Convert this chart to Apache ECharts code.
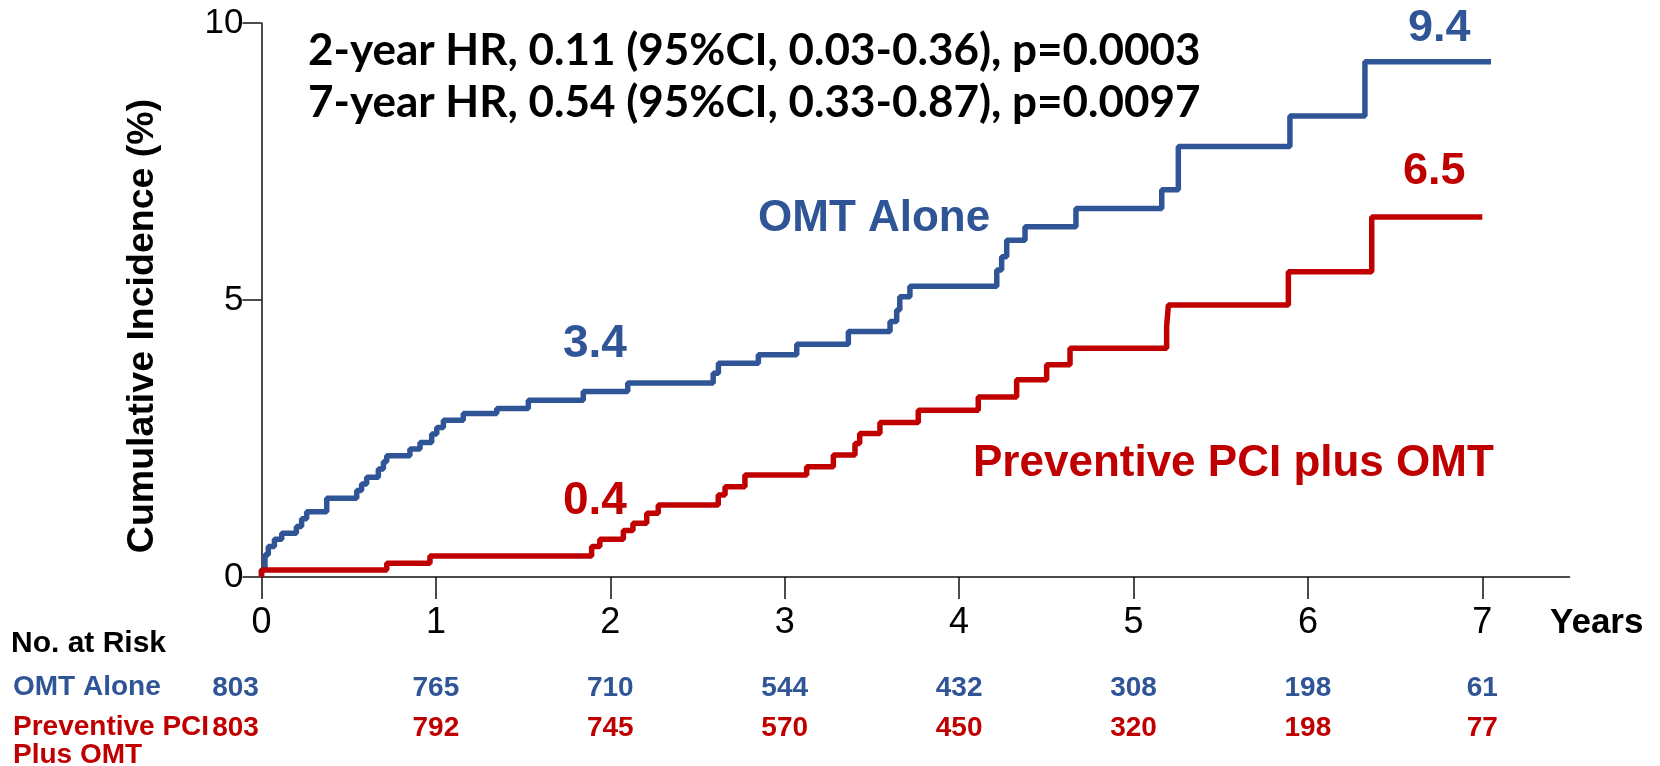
<!DOCTYPE html>
<html><head><meta charset="utf-8">
<script src="https://cdn.jsdelivr.net/npm/echarts@6/dist/echarts.min.js"></script>
<style>html,body{margin:0;padding:0;background:#fff}#c{width:1660px;height:766px}</style>
</head><body><div id="c"></div>
<script>
// ---- data ----
const yearTicks = [0, 1, 2, 3, 4, 5, 6, 7];
const yTicks = [0, 5, 10];
const omtTimes  = [0, 0, 0.02, 0.039, 0.074, 0.116, 0.20, 0.23, 0.259, 0.374, 0.546, 0.574, 0.603, 0.67, 0.699, 0.718, 0.851, 0.909, 0.976, 1.005, 1.043, 1.157, 1.349, 1.53, 1.845, 2.1, 2.59, 2.62, 2.849, 3.069, 3.365, 3.604, 3.642, 3.66, 3.718, 4.216, 4.244, 4.273, 4.378, 4.67, 5.162, 5.257, 5.897, 6.327, 7.05];
const omtValues = [0, 0.13, 0.40, 0.55, 0.68, 0.79, 0.91, 1.05, 1.18, 1.42, 1.56, 1.68, 1.80, 1.95, 2.08, 2.19, 2.31, 2.43, 2.58, 2.70, 2.83, 2.95, 3.04, 3.19, 3.35, 3.50, 3.68, 3.86, 4.01, 4.20, 4.43, 4.61, 4.82, 5.06, 5.25, 5.54, 5.78, 6.08, 6.32, 6.65, 6.99, 7.77, 8.32, 9.30, 9.30];
const pciTimes  = [0, 0, 0.718, 0.966, 1.893, 1.94, 2.075, 2.13, 2.209, 2.275, 2.619, 2.658, 2.772, 3.126, 3.279, 3.403, 3.43, 3.546, 3.766, 4.11, 4.33, 4.502, 4.636, 5.19, 5.2, 5.888, 6.366, 7.0];
const pciValues = [0, 0.125, 0.25, 0.38, 0.55, 0.68, 0.84, 0.97, 1.15, 1.30, 1.48, 1.63, 1.84, 1.99, 2.20, 2.41, 2.59, 2.79, 3.01, 3.25, 3.56, 3.83, 4.13, 4.52, 4.91, 5.51, 6.50, 6.50];
const omtAtRisk = [803, 765, 710, 544, 432, 308, 198, 61];
const pciAtRisk = [803, 792, 745, 570, 450, 320, 198, 77];
const statLines = ['2-year HR, 0.11 (95%CI, 0.03-0.36), p=0.0003', '7-year HR, 0.54 (95%CI, 0.33-0.87), p=0.0097'];

const BLUE = '#2F5597', RED = '#C00000';
const ARIAL = "'Liberation Sans', Arial, sans-serif";
const BOLD = (s) => "bold " + s + "px 'Liberation Sans', Arial, sans-serif";
const chart = echarts.init(document.getElementById('c'), null, {renderer: 'canvas'});

function riskAxis(values, color, margin) {
  return {
    type: 'value', min: 0, max: 7.5, position: 'bottom',
    axisLine: {show: false}, axisTick: {show: false}, splitLine: {show: false},
    axisLabel: {
      customValues: yearTicks, margin: margin, color: color,
      fontFamily: ARIAL, fontWeight: 'bold', fontSize: 28,
      formatter: function (v) {
        const i = yearTicks.indexOf(v);
        return i === 0 ? '{first|' + values[i] + '}' : '{n|' + values[i] + '}';
      },
      rich: {
        first: {color: color, fontFamily: ARIAL, fontWeight: 'bold', fontSize: 28, padding: [0, 52, 0, 0]},
        n: {color: color, fontFamily: ARIAL, fontWeight: 'bold', fontSize: 28}
      }
    }
  };
}

const option = {
  animation: false,
  backgroundColor: '#fff',
  grid: {left: 261.5, right: 90.5, top: 23, bottom: 189},
  xAxis: [
    {
      type: 'value', min: 0, max: 7.5,
      axisLine: {lineStyle: {color: '#111', width: 1.5}},
      axisTick: {customValues: yearTicks, length: 22, lineStyle: {color: '#111', width: 1.5}},
      axisLabel: {customValues: yearTicks, margin: 28, fontSize: 36, color: '#000', fontFamily: ARIAL},
      splitLine: {show: false}
    },
    riskAxis(omtAtRisk, BLUE, 97),
    riskAxis(pciAtRisk, RED, 137)
  ],
  yAxis: {
    type: 'value', min: 0, max: 10, interval: 5,
    axisLine: {show: true, lineStyle: {color: '#111', width: 1.5}},
    axisTick: {show: true, length: 19, lineStyle: {color: '#111', width: 1.5}},
    axisLabel: {margin: 18, fontSize: 35, color: '#000', fontFamily: ARIAL},
    splitLine: {show: false}
  },
  series: [
    {
      name: 'OMT Alone', type: 'line', step: 'end', showSymbol: false,
      lineStyle: {color: BLUE, width: 5.5}, itemStyle: {color: BLUE},
      data: omtTimes.map((t, i) => [t, omtValues[i]])
    },
    {
      name: 'Preventive PCI plus OMT', type: 'line', step: 'end', showSymbol: false,
      lineStyle: {color: RED, width: 5.5}, itemStyle: {color: RED},
      data: pciTimes.map((t, i) => [t, pciValues[i]])
    }
  ],
  graphic: [
    {type: 'text', x: 143, y: 326, rotation: Math.PI / 2,
      style: {text: 'Cumulative Incidence (%)', font: BOLD(37.5), fill: '#000', align: 'center', verticalAlign: 'middle'}},
    {type: 'text', left: 308, top: 29, style: {text: statLines[0], font: "bold 44px Lato, 'Liberation Sans', sans-serif", fill: '#000'}},
    {type: 'text', left: 308, top: 81, style: {text: statLines[1], font: "bold 44px Lato, 'Liberation Sans', sans-serif", fill: '#000'}},
    {type: 'text', left: 758, top: 197, style: {text: 'OMT Alone', font: BOLD(44), fill: BLUE}},
    {type: 'text', left: 973, top: 442, style: {text: 'Preventive PCI plus OMT', font: BOLD(44), fill: RED}},
    {type: 'text', left: 563, top: 321, style: {text: '3.4', font: BOLD(46), fill: BLUE}},
    {type: 'text', left: 563, top: 478, style: {text: '0.4', font: BOLD(46), fill: RED}},
    {type: 'text', left: 1408, top: 6, style: {text: '9.4', font: BOLD(45), fill: BLUE}},
    {type: 'text', left: 1403, top: 149, style: {text: '6.5', font: BOLD(45), fill: RED}},
    {type: 'text', left: 1550, top: 606, style: {text: 'Years', font: BOLD(35), fill: '#000'}},
    {type: 'text', left: 11, top: 629, style: {text: 'No. at Risk', font: BOLD(30), fill: '#000'}},
    {type: 'text', left: 13, top: 673, style: {text: 'OMT Alone', font: BOLD(28), fill: BLUE}},
    {type: 'text', left: 13, top: 713, style: {text: 'Preventive PCI', font: BOLD(28), fill: RED}},
    {type: 'text', left: 13, top: 741, style: {text: 'Plus OMT', font: BOLD(28), fill: RED}}
  ]
};
chart.setOption(option);
</script>
</body></html>
